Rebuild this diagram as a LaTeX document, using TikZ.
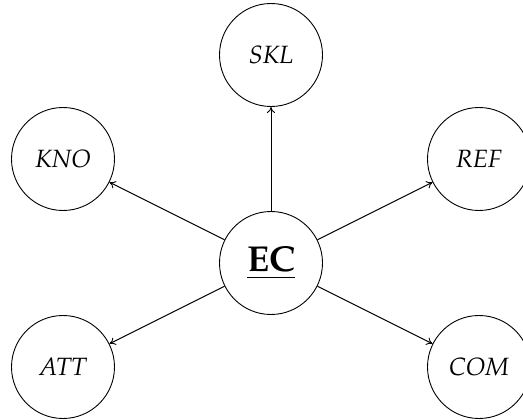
\documentclass[tikz,border=0pt]{standalone}
\usepackage[T1]{fontenc}
\usepackage{mathpazo}
\usetikzlibrary{arrows.meta}
\begin{document}
\begin{tikzpicture}[x=1pt,y=-1pt,
  bubble/.style={circle,draw,line width=0.9pt,minimum size=103pt,inner sep=0pt,
    font=\fontsize{25}{30}\selectfont\itshape},
  hub/.style={bubble,font=\fontsize{36}{42}\selectfont\bfseries\upshape},
  link/.style={line width=0.9pt,-{To[length=6pt,width=8pt]}}]
  \useasboundingbox (0,0) rectangle (523,420);
  \node[hub]    (ec)  at (271,263) {\underline{EC}};
  \node[bubble] (skl) at (271,55)  {SKL};
  \node[bubble] (kno) at (63,159)  {KNO};
  \node[bubble] (ref) at (479,159) {REF};
  \node[bubble] (att) at (63,367)  {ATT};
  \node[bubble] (com) at (479,367) {COM};
  \foreach \t in {skl,kno,ref,att,com}
    \draw[link] (ec) -- (\t);
\end{tikzpicture}
\end{document}
